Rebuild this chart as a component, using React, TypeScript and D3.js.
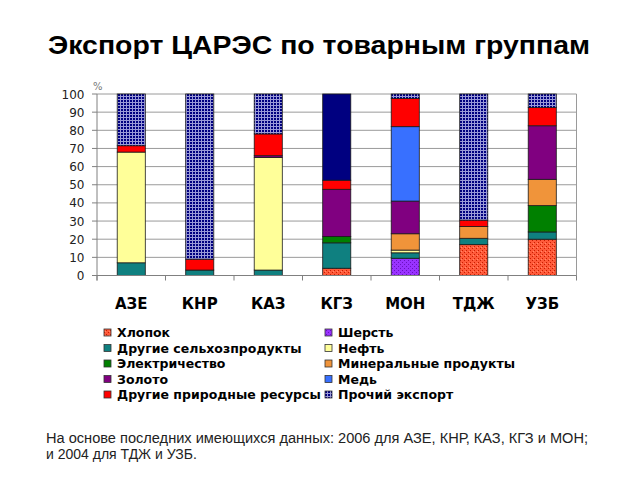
import React from 'react';
import * as d3 from 'd3';

const countries = ['АЗЕ', 'КНР', 'КАЗ', 'КГЗ', 'МОН', 'ТДЖ', 'УЗБ'];

// stacking order, bottom to top
const seriesNames = [
  'Хлопок',
  'Шерсть',
  'Другие сельхозпродукты',
  'Нефть',
  'Электричество',
  'Минеральные продукты',
  'Золото',
  'Медь',
  'Другие природные ресурсы',
  'Прочий экспорт',
];

// values per country, same order as countries
const cotton = [0, 0, 0, 4, 0, 17, 20];
const wool = [0, 0, 0, 0, 9.5, 0, 0];
const otherAgri = [7, 3, 3, 14, 3, 3.5, 4];
const oil = [61, 0, 62, 0, 1.5, 0, 0];
const electricity = [0, 0, 0, 3.5, 0, 0, 14.5];
const minerals = [0, 0, 0, 0, 9, 6.5, 14.5];
const gold = [0, 0, 1, 26, 18, 0, 29.5];
const copper = [0, 0, 0, 0, 41, 0, 0];
const otherNatural = [3.5, 6, 12, 5, 15.5, 3.5, 10];
const otherExport = [28.5, 91, 22, 47.5, 2.5, 69.5, 7.5];

const yTicks = [0, 10, 20, 30, 40, 50, 60, 70, 80, 90, 100];

const seriesValues = [cotton, wool, otherAgri, oil, electricity, minerals, gold, copper, otherNatural, otherExport];

const fills: { [k: string]: string } = {
  'Хлопок': 'url(#pCotton)',
  'Шерсть': 'url(#pWool)',
  'Другие сельхозпродукты': '#0f8080',
  'Нефть': '#ffff99',
  'Электричество': '#008000',
  'Минеральные продукты': '#f0943a',
  'Золото': '#800080',
  'Медь': '#3870ff',
  'Другие природные ресурсы': '#ff0000',
  'Прочий экспорт': 'url(#pOther)',
};

// КГЗ shows the "other" block as a plain navy fill
const solidOther = ['КГЗ'];

const App: React.FC = () => {
  const margin = { left: 97, right: 576.5, top: 94, bottom: 275.5 };

  const x = d3.scaleBand()
    .domain(countries)
    .range([margin.left, margin.right])
    .paddingInner(0.59)
    .paddingOuter(0.295);

  const y = d3.scaleLinear().domain([0, 100]).range([margin.bottom, margin.top]);

  const rows = countries.map((c, i) => {
    const r: { [k: string]: number } = {};
    seriesNames.forEach((s, j) => { r[s] = seriesValues[j][i]; });
    return r;
  });

  const stack = d3.stack<{ [k: string]: number }>().keys(seriesNames);
  const series = stack(rows);

  const step = x.step();
  const boundaries = d3.range(countries.length + 1).map(i => margin.left + i * step);

  const legendRows = d3.range(Math.ceil(seriesNames.length / 2));

  return (
    <div style={{ position: 'absolute', left: 0, top: 0 }}>
      <svg width={640} height={480} style={{ display: 'block', background: '#fff' }}>
        <defs>
          <pattern id="pCotton" width="4" height="4" patternUnits="userSpaceOnUse">
            <rect width="4" height="4" fill="#ff5a3a" />
            <rect x="0" y="0" width="1" height="1" fill="#c81e00" />
            <rect x="2" y="2" width="1" height="1" fill="#c81e00" />
            <rect x="1" y="3" width="1" height="1" fill="#ff8a6a" />
          </pattern>
          <pattern id="pWool" width="4" height="4" patternUnits="userSpaceOnUse">
            <rect width="4" height="4" fill="#9933ff" />
            <rect x="0" y="0" width="1" height="1" fill="#6a10c0" />
            <rect x="2" y="2" width="1" height="1" fill="#6a10c0" />
          </pattern>
          <pattern id="pOther" width="3" height="3" patternUnits="userSpaceOnUse">
            <rect width="3" height="3" fill="#000080" />
            <rect x="0" y="0" width="3" height="1" fill="#9a9ad8" />
            <rect x="0" y="0" width="1" height="3" fill="#9a9ad8" />
          </pattern>
        </defs>

        <text x={48} y={54} textLength={542} lengthAdjust="spacingAndGlyphs"
          fontFamily="'Liberation Sans', Arial, sans-serif"
          fontWeight="bold" fontSize={25} fill="#000">
          Экспорт ЦАРЭС по товарным группам
        </text>

        {/* grid */}
        {yTicks.map(t => (
          <line key={'g' + t} x1={margin.left} x2={margin.right} y1={y(t)} y2={y(t)} stroke="#9a9a9a" strokeWidth={1} />
        ))}
        <line x1={margin.right} x2={margin.right} y1={margin.top} y2={margin.bottom} stroke="#9a9a9a" />

        {/* bars */}
        {series.map(s => (
          <g key={s.key}>
            {s.map((d, i) => {
              const h = y(d[0]) - y(d[1]);
              if (h <= 0) return null;
              let fill = fills[s.key];
              if (s.key === 'Прочий экспорт' && solidOther.includes(countries[i])) fill = '#000080';
              return (
                <rect key={i} x={x(countries[i])} y={y(d[1])} width={x.bandwidth()} height={h}
                  fill={fill} stroke="#1a1a1a" strokeWidth={0.8} />
              );
            })}
          </g>
        ))}

        {/* axes */}
        <line x1={margin.left} x2={margin.left} y1={margin.top} y2={margin.bottom + 5} stroke="#808080" />
        <line x1={margin.left} x2={margin.right} y1={margin.bottom} y2={margin.bottom} stroke="#808080" />
        {boundaries.map((b, i) => (
          <line key={'xt' + i} x1={b} x2={b} y1={margin.bottom} y2={margin.bottom + 5} stroke="#808080" />
        ))}
        {yTicks.map(t => (
          <g key={'yt' + t}>
            <line x1={margin.left - 5} x2={margin.left} y1={y(t)} y2={y(t)} stroke="#808080" />
            <text x={84.5} y={y(t) + 4.5} textAnchor="end" fontFamily="'DejaVu Sans', Verdana, sans-serif"
              fontSize={12} fill="#222">{t}</text>
          </g>
        ))}
        <text x={93} y={90} fontFamily="'DejaVu Sans', Verdana, sans-serif" fontSize={10} fill="#777">%</text>

        {countries.map(c => (
          <text key={c} x={(x(c) ?? 0) + x.bandwidth() / 2} y={309} textAnchor="middle"
            fontFamily="'DejaVu Sans', Verdana, sans-serif" fontWeight="bold" fontSize={15} fill="#000">{c}</text>
        ))}

        {/* legend */}
        {legendRows.map(r => [0, 1].map(col => {
          const idx = r * 2 + col;
          const name = seriesNames[idx];
          if (!name) return null;
          const lx = col === 0 ? 104 : 325;
          const by = 337 + r * 15.5;
          return (
            <g key={name}>
              <rect x={lx} y={by - 8} width={7} height={7} fill={fills[name]} stroke="#333" strokeWidth={0.8} />
              <text x={lx + 13} y={by} fontFamily="'DejaVu Sans', Verdana, sans-serif" fontWeight="bold"
                fontSize={12.5} fill="#000">{name}</text>
            </g>
          );
        }))}

        <text fontFamily="'Liberation Sans', Arial, sans-serif" fontSize={14} fill="#222">
          <tspan x={46} y={443} textLength={542} lengthAdjust="spacingAndGlyphs">На основе последних имеющихся данных: 2006 для АЗЕ, КНР, КАЗ, КГЗ и МОН;</tspan>
          <tspan x={46} y={459}>и 2004 для ТДЖ и УЗБ.</tspan>
        </text>
      </svg>
    </div>
  );
};

export default App;
